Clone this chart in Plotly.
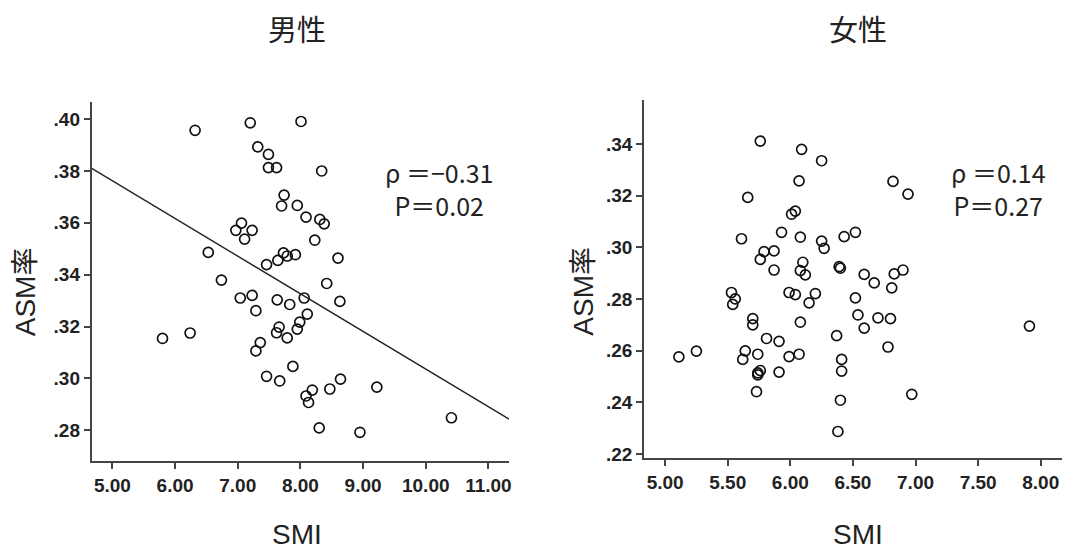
import plotly.graph_objects as go

# ---------------- data ----------------
male_smi = [6.32, 7.20, 8.01, 7.32, 7.49, 7.49, 7.62, 7.74, 7.70, 7.95,
            8.09, 7.06, 6.97, 7.23, 7.11, 8.23, 6.53, 7.73, 7.79, 7.92,
            7.64, 7.46, 8.34, 8.31, 8.38, 8.60, 8.42, 8.63, 8.47, 8.64,
            9.22, 8.95, 10.41, 6.74, 7.04, 7.23, 7.63, 7.83, 8.06, 7.29,
            8.11, 7.99, 7.95, 7.66, 7.62, 7.79, 5.80, 6.24, 7.36, 7.29,
            7.88, 7.46, 7.67, 8.19, 8.09, 8.13, 8.30]
male_asm = [.3957, .3986, .3991, .3893, .3864, .3813, .3813, .3707, .3665, .3667,
            .3622, .3599, .3571, .3571, .3537, .3533, .3486, .3484, .3472, .3477,
            .3455, .3439, .3800, .3613, .3596, .3464, .3366, .3297, .2959, .2997,
            .2966, .2792, .2848, .3379, .3310, .3320, .3303, .3285, .3310, .3261,
            .3248, .3217, .3190, .3198, .3176, .3156, .3154, .3175, .3138, .3106,
            .3046, .3008, .2990, .2955, .2932, .2907, .2809]

female_smi = [5.76, 6.09, 6.25, 6.07, 5.66, 6.01, 6.04, 5.93, 5.61, 6.08,
              6.25, 6.27, 5.79, 5.87, 5.76, 6.10, 5.87, 6.08, 6.12, 5.53,
              5.56, 5.54, 5.99, 6.04, 6.20, 6.15, 5.70, 5.70, 6.08, 5.81,
              5.91, 5.11, 5.25, 5.64, 5.62, 5.74, 5.99, 6.07, 5.76, 5.74,
              5.74, 5.91, 5.73, 6.82, 6.94, 6.52, 6.43, 6.39, 6.40, 6.59,
              6.67, 6.83, 6.90, 6.81, 6.52, 6.54, 6.70, 6.80, 6.59, 6.37,
              7.91, 6.78, 6.41, 6.41, 6.97, 6.40, 6.38]
female_asm = [.3411, .3379, .3335, .3257, .3193, .3128, .3140, .3058, .3033, .3039,
              .3024, .2996, .2983, .2986, .2953, .2942, .2912, .2910, .2893, .2825,
              .2800, .2779, .2825, .2817, .2821, .2785, .2724, .2700, .2710, .2647,
              .2636, .2576, .2598, .2599, .2566, .2586, .2577, .2586, .2523, .2514,
              .2506, .2517, .2441, .3255, .3206, .3058, .3041, .2925, .2919, .2895,
              .2862, .2897, .2912, .2843, .2804, .2738, .2727, .2724, .2687, .2658,
              .2695, .2614, .2566, .2521, .2431, .2408, .2287]

# fitted line for males
male_fit_x = [4.671, 11.33]
male_fit_slope = -0.01452
male_fit_intercept = 0.4488

male_xticks = [5, 6, 7, 8, 9, 10, 11]
male_xticklabels = ["5.00", "6.00", "7.00", "8.00", "9.00", "10.00", "11.00"]
male_yticks = [.28, .30, .32, .34, .36, .38, .40]
male_yticklabels = [".28", ".30", ".32", ".34", ".36", ".38", ".40"]

female_xticks = [5.0, 5.5, 6.0, 6.5, 7.0, 7.5, 8.0]
female_xticklabels = ["5.00", "5.50", "6.00", "6.50", "7.00", "7.50", "8.00"]
female_yticks = [.22, .24, .26, .28, .30, .32, .34]
female_yticklabels = [".22", ".24", ".26", ".28", ".30", ".32", ".34"]

titles = ["男性", "女性"]
stats = [["ρ ＝−0.31", "P＝0.02"], ["ρ ＝0.14", "P＝0.27"]]
x_title = "SMI"
y_title = "ASM率"

# ---------------- figure ----------------
OFF = 8            # browser body margin
W, H = 1064, 544   # figure size inside the 1072x560 window
TICKFONT = dict(family="Liberation Sans, Arial", size=19, color="#222", weight="bold")
AXCOL = "#444"
marker = dict(symbol="circle-open", size=10, color="#111", line=dict(width=1.7, color="#111"))

fig = go.Figure()
fig.add_trace(go.Scatter(x=male_smi, y=male_asm, mode="markers", marker=marker,
                         xaxis="x", yaxis="y", showlegend=False, hoverinfo="x+y"))
fig.add_trace(go.Scatter(x=male_fit_x,
                         y=[male_fit_intercept + male_fit_slope * v for v in male_fit_x],
                         mode="lines", line=dict(color="#222", width=1.4),
                         xaxis="x", yaxis="y", showlegend=False, hoverinfo="skip"))
fig.add_trace(go.Scatter(x=female_smi, y=female_asm, mode="markers", marker=marker,
                         xaxis="x2", yaxis="y2", showlegend=False, hoverinfo="x+y"))

def px_x(p):
    return (p - OFF) / W

def px_y(p):
    return 1 - (p - OFF) / H

common_axis = dict(showgrid=False, zeroline=False, showline=True, linecolor=AXCOL, linewidth=2,
                   ticks="outside", ticklen=6, tickwidth=1.5, tickcolor=AXCOL,
                   tickfont=TICKFONT, mirror=False, fixedrange=True)

fig.update_layout(
    width=W, height=H,
    margin=dict(l=0, r=0, t=0, b=0),
    paper_bgcolor="white", plot_bgcolor="white",
    xaxis=dict(common_axis, domain=[px_x(92), px_x(510.5)], range=[4.671, 11.33],
               tickvals=male_xticks, ticktext=male_xticklabels, anchor="y"),
    yaxis=dict(common_axis, domain=[px_y(466.7), px_y(103)], range=[.2682, .4067],
               tickvals=male_yticks, ticktext=male_yticklabels, anchor="x"),
    xaxis2=dict(common_axis, domain=[px_x(646), min(1.0, px_x(1065))], range=[4.833, 8.17],
                tickvals=female_xticks, ticktext=female_xticklabels, anchor="y2"),
    yaxis2=dict(common_axis, domain=[px_y(463.7), px_y(100.7)], range=[.2185, .3572],
                tickvals=female_yticks, ticktext=female_yticklabels, anchor="x2"),
)

TEXTFONT = dict(family="Noto Sans CJK JP, Noto Sans", size=25, color="#222")
annots = []
# titles
for cx, t in zip([298, 860], titles):
    annots.append(dict(text=t, x=px_x(cx), y=px_y(28), xref="paper", yref="paper",
                       showarrow=False, xanchor="center", yanchor="middle",
                       font=dict(family="Noto Sans CJK JP", size=29, color="#222")))
# x axis titles
for cx in [298, 860]:
    annots.append(dict(text=x_title, x=px_x(cx), y=px_y(541), xref="paper", yref="paper",
                       showarrow=False, xanchor="center", yanchor="middle",
                       font=dict(family="Liberation Sans, Arial", size=28, color="#222")))
# y axis titles
for cx in [25, 585]:
    annots.append(dict(text=y_title, x=px_x(cx), y=px_y(295), xref="paper", yref="paper",
                       showarrow=False, xanchor="center", yanchor="middle", textangle=-90,
                       font=dict(family="Liberation Sans, Noto Sans CJK JP", size=28, color="#222")))
# statistics (two lines in one text block)
for cx, (l1, l2) in zip([440, 1001], stats):
    annots.append(dict(text=l1 + "<br>" + l2, x=px_x(cx), y=px_y(191), xref="paper", yref="paper",
                       showarrow=False, xanchor="center", yanchor="middle", align="center",
                       font=TEXTFONT))
fig.update_layout(annotations=annots)

fig.write_html("out.html")
